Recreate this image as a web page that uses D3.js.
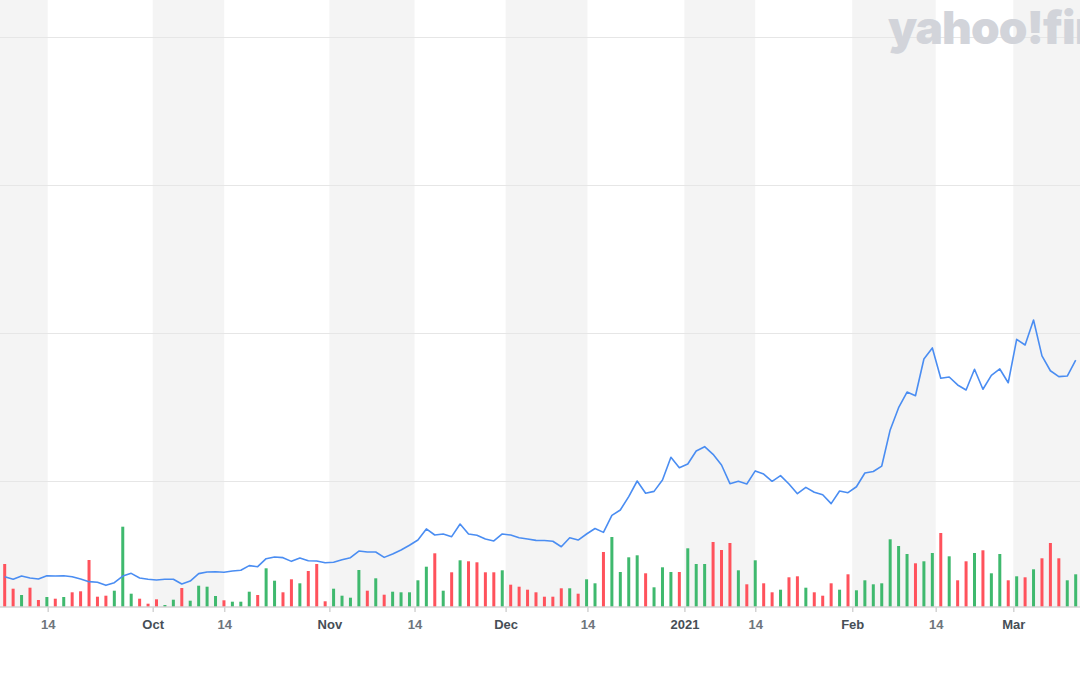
<!DOCTYPE html>
<html>
<head>
<meta charset="utf-8">
<script src="https://cdn.jsdelivr.net/npm/d3@7"></script>
<style>
  html, body { margin: 0; padding: 0; background: #fff; }
  svg { display: block; }
</style>
</head>
<body>
<svg id="chart" width="1080" height="675"></svg>
<script>
// ---- Data ----
// Closing price per trading day (index 0 .. 127)
const closePrices = [
  13.53,13.36,13.58,13.45,13.38,13.60,13.58,13.60,13.53,13.38,
  13.20,13.16,12.95,13.13,13.58,13.76,13.45,13.36,13.31,13.36,
  13.36,13.04,13.24,13.74,13.85,13.87,13.83,13.92,13.97,14.28,
  14.21,14.75,14.86,14.82,14.57,14.80,14.61,14.59,14.48,14.51,
  14.68,14.82,15.27,15.20,15.20,14.84,15.07,15.34,15.66,16.01,
  16.76,16.35,16.42,16.24,17.09,16.42,16.33,16.08,15.95,16.42,
  16.35,16.17,16.08,15.99,15.98,15.93,15.56,16.17,16.01,16.42,
  16.79,16.53,17.68,18.04,18.94,20.00,19.17,19.30,20.07,21.60,
  20.90,21.15,22.03,22.32,21.80,21.08,19.82,19.98,19.80,20.68,
  20.47,19.98,20.36,19.80,19.14,19.57,19.24,19.07,18.47,19.32,
  19.21,19.61,20.54,20.64,21.01,23.45,24.95,26.01,25.76,28.24,
  28.99,26.94,27.03,26.49,26.15,27.55,26.20,27.14,27.57,26.64,
  29.57,29.19,30.88,28.45,27.45,27.05,27.09,28.16
];
// Volume per trading day (millions)
const volumes = [
  4.30,1.83,1.20,1.93,0.70,1.00,0.83,1.00,1.47,1.57,
  4.70,1.03,1.13,1.63,8.03,1.33,0.83,0.33,0.77,0.20,
  0.73,1.90,0.63,2.13,2.03,1.10,0.67,0.53,0.53,1.53,
  1.20,3.87,2.63,1.47,2.77,2.37,3.60,4.30,0.57,1.83,
  1.13,0.93,3.70,1.63,2.87,1.23,1.53,1.47,1.47,2.67,
  4.03,5.37,1.63,3.47,4.67,4.57,4.47,3.47,3.47,3.67,
  2.23,2.03,1.73,1.47,1.03,1.03,1.87,1.87,1.33,2.77,
  2.37,5.50,7.00,3.50,4.97,5.17,3.37,1.97,3.97,3.50,
  3.50,5.87,4.30,4.30,6.50,5.70,6.40,3.67,2.27,4.67,
  2.37,1.47,1.73,2.97,3.07,1.93,1.47,1.13,2.37,1.73,
  3.27,1.67,2.67,2.27,2.37,6.77,6.10,5.30,4.37,4.57,
  5.40,7.40,5.07,2.67,4.57,5.40,5.67,3.37,5.30,2.67,
  3.07,2.97,3.77,4.87,6.40,4.87,2.67,3.27
];
// Day direction for volume colouring: u = up (green), d = down (red)
const volumeDir = [
  "d","d","u","d","d","u","d","u","d","d",
  "d","d","d","u","u","u","d","d","d","u",
  "u","d","u","u","u","u","d","u","u","u",
  "d","u","u","d","d","u","d","d","d","u",
  "u","u","u","d","u","d","u","u","u","u",
  "u","d","u","d","u","d","d","d","d","u",
  "d","d","d","d","d","d","d","u","d","u",
  "u","d","u","u","u","u","d","u","u","u",
  "d","u","u","u","d","d","d","u","d","u",
  "d","d","u","d","d","u","d","d","d","u",
  "d","u","u","u","u","u","u","u","d","u",
  "u","d","u","d","d","u","d","u","u","d",
  "u","d","u","d","d","d","u","u"
];
// X-axis ticks, positioned in trading-day index units
const tickLabels = ["14","Oct","14","Nov","14","Dec","14","2021","14","Feb","14","Mar"];
const tickIndex  = [5.1, 17.55, 26.03, 38.5, 48.6, 59.4, 69.1, 80.6, 89.0, 100.5, 110.4, 119.6];
const tickIsMonth = [false,true,false,true,false,true,false,true,false,true,false,true];
// Price gridlines
const priceTicks = [20, 30, 40, 50];

// ---- Drawing ----
const W = 1080, H = 675;
const axisY = 607;
const svg = d3.select("#chart");

const x = d3.scaleLinear().domain([-0.557, 127.51]).range([0, W]);
const yPrice = d3.scaleLinear().domain([20, 50]).range([481, 37]);
const yVol = d3.scaleLinear().domain([0, 10]).range([axisY, axisY - 100]);

// Background stripes: grey from month start to the 14th
const domain = x.domain();
const stripes = [[domain[0], tickIndex[0]]];
for (let k = 1; k < tickIndex.length; k += 2) {
  const end = k + 1 < tickIndex.length ? tickIndex[k + 1] : domain[1];
  stripes.push([tickIndex[k], end]);
}
svg.append("g").selectAll("rect").data(stripes).join("rect")
  .attr("x", d => x(d[0]))
  .attr("width", d => x(d[1]) - x(d[0]))
  .attr("y", 0)
  .attr("height", axisY)
  .attr("fill", "#f4f4f4");

// Horizontal gridlines
svg.append("g").selectAll("line").data(priceTicks).join("line")
  .attr("x1", 0).attr("x2", W)
  .attr("y1", d => Math.round(yPrice(d)) + 0.5)
  .attr("y2", d => Math.round(yPrice(d)) + 0.5)
  .attr("stroke", "#e6e6e6")
  .attr("stroke-width", 1);

// Logo watermark (cut by the right edge, as in the original)
svg.append("text")
  .attr("x", 888).attr("y", 44)
  .attr("font-family", "Inter, 'DejaVu Sans', sans-serif")
  .attr("font-weight", 900)
  .attr("font-size", 46)
  .attr("letter-spacing", -1)
  .attr("fill", "#d2d4da")
  .text("yahoo!finance");

// Volume bars
svg.append("g").selectAll("rect").data(volumes).join("rect")
  .attr("x", (d, i) => x(i) - 1.5)
  .attr("width", 3)
  .attr("y", d => yVol(d))
  .attr("height", d => axisY - yVol(d))
  .attr("fill", (d, i) => volumeDir[i] === "u" ? "#3fb96e" : "#ff525c");

// Price line
const line = d3.line().x((d, i) => x(i)).y(d => yPrice(d));
svg.append("path")
  .datum(closePrices)
  .attr("d", line)
  .attr("fill", "none")
  .attr("stroke", "#4a8df2")
  .attr("stroke-width", 1.6)
  .attr("stroke-linejoin", "round");

// X axis
const xAxis = d3.axisBottom(x)
  .tickValues(tickIndex)
  .tickSize(5)
  .tickSizeOuter(0)
  .tickPadding(6)
  .tickFormat((d, i) => tickLabels[i]);
const gAxis = svg.append("g")
  .attr("transform", `translate(0,${axisY})`)
  .call(xAxis);
gAxis.select(".domain").attr("stroke", "#d3d3d3").attr("stroke-width", 1.5)
  .attr("d", `M0,0H${W}`);
gAxis.selectAll(".tick line").attr("stroke", "#d3d3d3").attr("stroke-width", 1.5);
gAxis.selectAll(".tick text")
  .attr("font-family", "'Liberation Sans', Arial, sans-serif")
  .attr("font-weight", "bold")
  .attr("font-size", 13)
  .attr("dy", "0.85em")
  .attr("fill", (d, i) => tickIsMonth[i] ? "#464e56" : "#6e757c");
</script>
</body>
</html>
